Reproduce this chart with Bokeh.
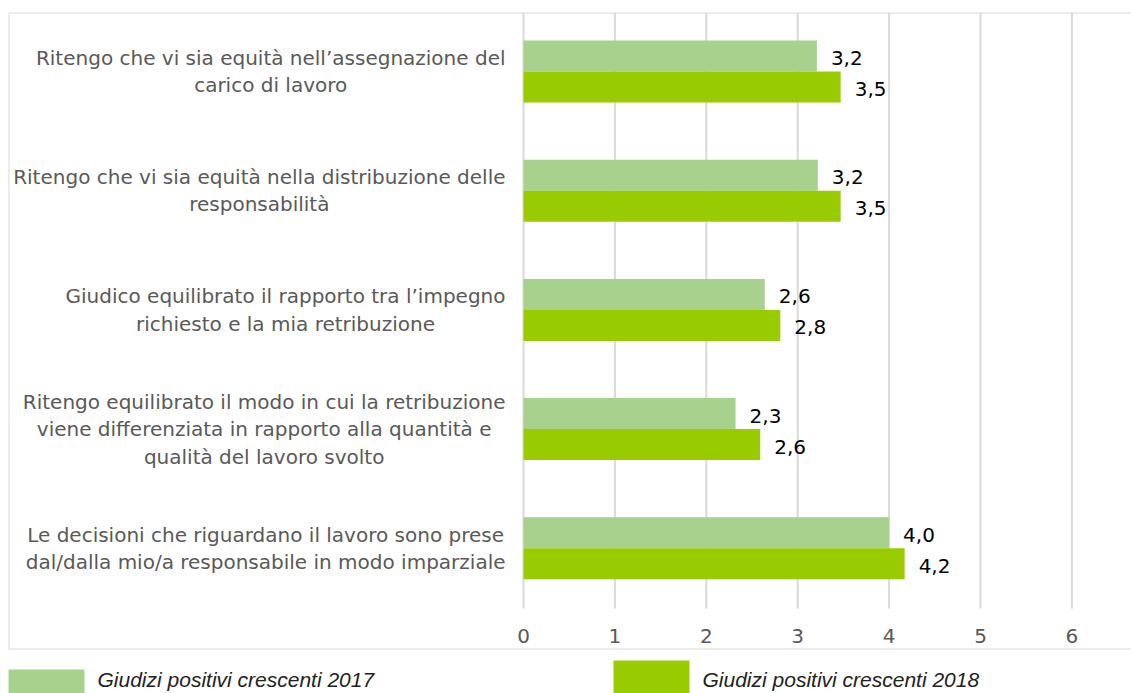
from bokeh.plotting import figure
from bokeh.models import Range1d, ColumnDataSource
from bokeh.embed import file_html
from bokeh.resources import INLINE
from bokeh.core.properties import value

# ---------------- data ----------------
categories = [
    "Ritengo che vi sia equità nell\u2019assegnazione del\ncarico di lavoro",
    "Ritengo che vi sia equità nella distribuzione delle\nresponsabilità",
    "Giudico equilibrato il rapporto tra l\u2019impegno\nrichiesto e la mia retribuzione",
    "Ritengo equilibrato il modo in cui la retribuzione\nviene differenziata in rapporto alla quantità e\nqualità del lavoro svolto",
    "Le decisioni che riguardano il lavoro sono prese\ndal/dalla mio/a responsabile in modo imparziale",
]
series_names = ["Giudizi positivi crescenti 2017", "Giudizi positivi crescenti 2018"]
values_2017 = [3.21, 3.22, 2.64, 2.32, 4.00]
values_2018 = [3.47, 3.47, 2.81, 2.59, 4.17]
colors = ["#a9d18e", "#99cc00"]
x_ticks = [0, 1, 2, 3, 4, 5, 6]
x_tick_labels = ["0", "1", "2", "3", "4", "5", "6"]

# ---------------- layout helpers (picture pixel -> data) ----------------
W, H = 1131, 693
X0_PX, X_UNIT = 523.0, 91.4  # picture x of value 0, pixels per unit
Y0_PX, Y_UNIT = 11.4, 119.2  # picture y of category band 0, pixels per band

def X(px):
    return (px - X0_PX) / X_UNIT

def Y(py):
    return (py - Y0_PX) / Y_UNIT

FONT = "DejaVu Sans"
GRID = "#d9d9d9"

def fmt(v):
    return f"{v:.1f}".replace(".", ",")

n = len(categories)
centers = [i + 0.5 for i in range(n)]
BAR_H = 0.26
src17 = ColumnDataSource(dict(y=[c - BAR_H / 2 for c in centers], v=values_2017,
                              lab=[fmt(v) for v in values_2017]))
src18 = ColumnDataSource(dict(y=[c + BAR_H / 2 for c in centers], v=values_2018,
                              lab=[fmt(v) for v in values_2018]))

p = figure(width=W, height=H, x_range=Range1d(X(0), X(W)), y_range=Range1d(Y(H), Y(0)),
           output_backend="svg", toolbar_location=None,
           x_axis_location=None, y_axis_location=None,
           min_border=0, min_border_left=0, min_border_right=0,
           min_border_top=0, min_border_bottom=0)
p.outline_line_color = None
p.grid.visible = False
p.background_fill_color = "white"
p.border_fill_color = "white"

# chart-area border
p.quad(left=X(8.5), right=X(1140), top=Y(12.5), bottom=Y(648.5),
       fill_color=None, line_color=GRID, line_width=1)

# vertical gridlines
p.segment(x0=x_ticks, x1=x_ticks, y0=Y(12.5), y1=Y(608),
          line_color=GRID, line_width=2)

# x tick labels
p.text(x=x_ticks, y=[Y(635)] * len(x_ticks), text=x_tick_labels,
       text_font=value(FONT), text_font_size="20px", text_color="#595959",
       text_align="center", text_baseline="middle")

# bars
p.hbar(y="y", left=0, right="v", height=BAR_H, source=src17, color=colors[0], line_color=None)
p.hbar(y="y", left=0, right="v", height=BAR_H, source=src18, color=colors[1], line_color=None)

# value labels
for s in (src17, src18):
    p.text(x="v", y="y", text="lab", source=s, x_offset=14, y_offset=2,
           text_font=value(FONT), text_font_size="20px", text_color="#000000",
           text_align="left", text_baseline="middle")

# category labels (right-anchored block, centred lines)
cat_src = ColumnDataSource(dict(y=centers, t=categories))
p.text(x=X(505), y="y", text="t", source=cat_src, anchor="center_right",
       text_font=value(FONT), text_font_size="20px", text_color="#595959",
       text_align="center", text_baseline="middle", text_line_height=1.15)

# legend
leg_left_px = [8, 613]
leg_top_px = [669, 660]
leg = ColumnDataSource(dict(left=[X(x) for x in leg_left_px],
                            right=[X(x + 76) for x in leg_left_px],
                            top=[Y(t) for t in leg_top_px],
                            bottom=[Y(700)] * 2,
                            tx=[X(x + 89) for x in leg_left_px],
                            ty=[Y(679)] * 2,
                            name=series_names, color=colors))
p.quad(left="left", right="right", top="top", bottom="bottom", color="color",
       line_color=None, source=leg)
p.text(x="tx", y="ty", text="name", source=leg, text_font=value("Liberation Sans"),
       text_font_style="italic", text_font_size="21px", text_color="#222222",
       text_align="left", text_baseline="middle")

open("out.html", "w").write(file_html(p, INLINE))
